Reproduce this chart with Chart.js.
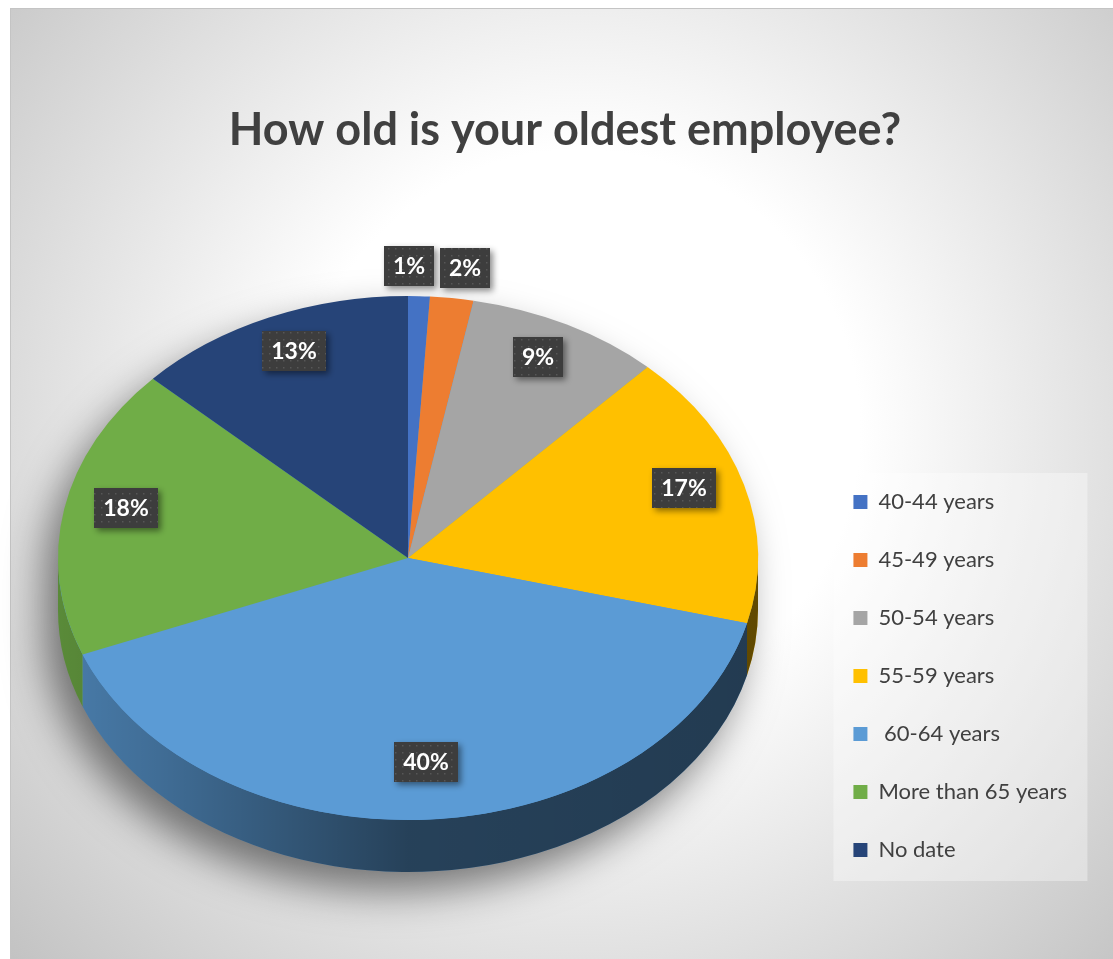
<!DOCTYPE html>
<html>
<head>
<meta charset="utf-8">
<title>How old is your oldest employee?</title>
<script src="https://cdn.jsdelivr.net/npm/chart.js@4"></script>
<style>
  html, body { margin: 0; padding: 0; background: #fff; }
  #wrap { width: 1113px; height: 959px; }
</style>
</head>
<body>
<div id="wrap"><canvas id="myChart"></canvas></div>
<script>
const categories = ["40-44 years", "45-49 years", "50-54 years", "55-59 years", " 60-64 years", "More than 65 years", "No date"];
const shares = [1, 2, 9, 17, 40, 18, 13];
const sliceColors = ["#4472c4", "#ed7d31", "#a5a5a5", "#ffc000", "#5b9bd5", "#70ad47", "#264478"];

// where the tilted pie sits on the page
const pie = { cx: 408, cy: 558, rx: 350, ry: 262, depth: 52 };
const FONT = "Lato";
const LEGEND_SIZE = 22;
const LEGEND_GAP = 36;

// legend column starts at a fixed x, so derive the right padding from the widest label
const probe = document.createElement("canvas").getContext("2d");
probe.font = LEGEND_SIZE + "px " + FONT;
const widest = Math.max(...categories.map(c => probe.measureText(c).width));
const legendLeft = 817;
const padRight = Math.round(1113 - (legendLeft + LEGEND_GAP + 14 + LEGEND_SIZE / 2 + widest + 10));

// dotted fill for the value tags
function dotPattern(ctx) {
  const c = document.createElement("canvas");
  c.width = 7; c.height = 7;
  const p = c.getContext("2d");
  p.fillStyle = "#3d3d3d";
  p.fillRect(0, 0, 7, 7);
  p.fillStyle = "#575757";
  p.fillRect(3, 3, 1.5, 1.5);
  return ctx.createPattern(c, "repeat");
}

const pie3d = {
  id: "pie3d",
  beforeDraw(chart) {
    const { ctx, width, height } = chart;
    ctx.save();
    const g = ctx.createRadialGradient(580, 430, 0, 580, 430, 800);
    g.addColorStop(0, "#ffffff");
    g.addColorStop(0.35, "#ffffff");
    g.addColorStop(1, "#c0c0c0");
    ctx.fillStyle = g;
    ctx.fillRect(10, 8, width - 10, height - 8);
    ctx.strokeStyle = "#c4c4c4";
    ctx.lineWidth = 1;
    ctx.strokeRect(10.5, 8.5, width, height);

    // legend panel
    const hb = chart.legend.legendHitBoxes;
    if (hb && hb.length) {
      const first = hb[0], last = hb[hb.length - 1];
      const top = first.top - 18;
      ctx.fillStyle = "rgba(255,255,255,0.35)";
      ctx.fillRect(first.left - 20, top, 254, last.top + last.height + 20 - top);
    }
    ctx.restore();
  },
  beforeDatasetsDraw(chart) {
    const { ctx } = chart;
    const arcs = chart.getDatasetMeta(0).data;
    const { cx, cy, rx, ry, depth } = pie;

    // soft drop shadow under the whole disc
    ctx.save();
    ctx.shadowColor = "rgba(0,0,0,0.5)";
    ctx.shadowBlur = 40;
    ctx.shadowOffsetX = -14;
    ctx.shadowOffsetY = 20;
    ctx.fillStyle = sliceColors[4];
    ctx.beginPath();
    ctx.ellipse(cx, cy, rx - 1, ry - 1, 0, Math.PI, 2 * Math.PI);
    ctx.ellipse(cx, cy + depth, rx - 1, ry - 1, 0, 0, Math.PI);
    ctx.closePath();
    ctx.fill();
    ctx.restore();

    // side walls of the front half
    const shade = ctx.createLinearGradient(cx - rx, 0, cx + rx, 0);
    shade.addColorStop(0, "rgba(0,0,0,0.2)");
    shade.addColorStop(0.15, "rgba(0,0,0,0.3)");
    shade.addColorStop(0.5, "rgba(0,0,0,0.58)");
    shade.addColorStop(1, "rgba(0,0,0,0.62)");
    arcs.forEach((arc, i) => {
      const a0 = Math.max(arc.startAngle, 0);
      const a1 = Math.min(arc.endAngle, Math.PI);
      if (a1 <= a0) return;
      ctx.beginPath();
      ctx.ellipse(cx, cy, rx, ry, 0, a0, a1, false);
      ctx.ellipse(cx, cy + depth, rx, ry, 0, a1, a0, true);
      ctx.closePath();
      ctx.fillStyle = sliceColors[i];
      ctx.fill();
      ctx.fillStyle = shade;
      ctx.fill();
    });

    // squash the library's round pie into the tilted top face
    const { x, y, outerRadius } = arcs[0];
    ctx.save();
    ctx.translate(cx, cy);
    ctx.scale(rx / outerRadius, ry / outerRadius);
    ctx.translate(-x, -y);
  },
  afterDatasetsDraw(chart) {
    const { ctx } = chart;
    ctx.restore();

    const arcs = chart.getDatasetMeta(0).data;
    const { cx, cy, rx, ry } = pie;
    ctx.save();
    ctx.font = "bold 23px " + FONT;
    const tags = arcs.map((arc, i) => {
      const mid = (arc.startAngle + arc.endAngle) / 2;
      const inside = shares[i] >= 5;
      const f = inside ? 0.82 : 1;
      let x = cx + Math.cos(mid) * rx * f;
      let y = cy + Math.sin(mid) * ry * f - (inside ? 10 : 0);
      if (!inside) {
        const nx = Math.cos(mid) * ry, ny = Math.sin(mid) * rx;
        const len = Math.hypot(nx, ny);
        x += nx / len * 30;
        y += ny / len * 30;
      }
      const text = shares[i] + "%";
      const w = Math.round(ctx.measureText(text).width + 18);
      return { x, y, w, h: 40, text, inside };
    });

    // spread apart outside tags that would collide
    const outside = tags.filter(t => !t.inside).sort((a, b) => a.x - b.x);
    for (let k = 1; k < outside.length; k++) {
      const a = outside[k - 1], b = outside[k];
      const need = (a.w + b.w) / 2 + 6 - (b.x - a.x);
      if (need > 0) { a.x -= need / 2; b.x += need / 2; }
    }

    const fill = dotPattern(ctx);
    tags.forEach(t => {
      const left = Math.round(t.x - t.w / 2), top = Math.round(t.y - t.h / 2);
      ctx.save();
      ctx.shadowColor = "rgba(0,0,0,0.45)";
      ctx.shadowBlur = 6;
      ctx.shadowOffsetX = 3;
      ctx.shadowOffsetY = 3;
      ctx.fillStyle = fill;
      ctx.fillRect(left, top, t.w, t.h);
      ctx.restore();
      ctx.fillStyle = "#ffffff";
      ctx.textAlign = "center";
      ctx.textBaseline = "middle";
      ctx.fillText(t.text, left + t.w / 2, top + t.h / 2 + 1);
    });
    ctx.restore();
  }
};

const data = {
  labels: categories,
  datasets: [
    {
      data: shares,
      backgroundColor: sliceColors,
      borderWidth: 0,
    },
  ],
};

const options = {
  responsive: true,
  maintainAspectRatio: false,
  animation: false,
  events: [],
  layout: {
    padding: { top: 0, left: padRight + 17, right: padRight, bottom: 62 },
  },
  plugins: {
    title: {
      display: true,
      text: "How old is your oldest employee?",
      color: "#404040",
      font: { family: FONT, size: 45, weight: "bold" },
      padding: { top: 103, bottom: 20 },
    },
    legend: {
      position: "right",
      align: "end",
      labels: {
        color: "#404040",
        font: { family: FONT, size: LEGEND_SIZE },
        boxWidth: 14,
        boxHeight: 14,
        padding: LEGEND_GAP,
      },
    },
    tooltip: { enabled: false },
  },
};

const ctx = document.getElementById("myChart").getContext("2d");
const myChart = new Chart(ctx, {
  type: "pie",
  data: data,
  options: options,
  plugins: [pie3d],
});
</script>
</body>
</html>
